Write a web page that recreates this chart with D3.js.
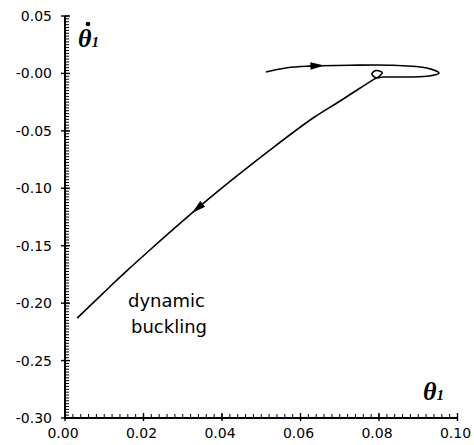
<!DOCTYPE html>
<html>
<head>
<meta charset="utf-8">
<script src="https://cdn.jsdelivr.net/npm/d3@7"></script>
<style>
body { margin: 0; background: #fff; }
svg { display: block; }
</style>
</head>
<body>
<svg></svg>
<script>
// trajectory in the phase plane (theta1, dtheta1/dt)
var theta = [0.0512, 0.0566, 0.0624, 0.0726, 0.0836, 0.0922, 0.0953, 0.0922, 0.0836, 0.0810,
             0.0792, 0.0782, 0.0792, 0.0808, 0.0800, 0.0790, 0.0752, 0.0701, 0.0632, 0.0522,
             0.0438, 0.0369, 0.0293, 0.0217, 0.0158, 0.0115, 0.0031];
var thetaDot = [0.0012, 0.0050, 0.0064, 0.0071, 0.0071, 0.0047, 0.0003, -0.0025, -0.0031, -0.0031,
                -0.0037, -0.0005, 0.0025, 0.0008, -0.0027, -0.0045, -0.0127, -0.0240, -0.0388, -0.0667,
                -0.0892, -0.1084, -0.1306, -0.1535, -0.1717, -0.1855, -0.2130];

// arrow heads along the path
var arrowTheta = [0.0643, 0.0336];
var arrowThetaDot = [0.0066, -0.1171];

var xTicks = [0, 0.02, 0.04, 0.06, 0.08, 0.10];
var xTickLabels = ["0.00", "0.02", "0.04", "0.06", "0.08", "0.10"];
var yTicks = [0.05, 0, -0.05, -0.10, -0.15, -0.20, -0.25, -0.30];
var yTickLabels = ["0.05", "-0.00", "-0.05", "-0.10", "-0.15", "-0.20", "-0.25", "-0.30"];
var note = ["dynamic", "buckling"];

var w = 474, h = 445;
var svg = d3.select("svg").attr("width", w).attr("height", h);

var x = d3.scaleLinear().domain([0, 0.10]).range([65, 457.5]);
var y = d3.scaleLinear().domain([-0.30, 0.05]).range([418, 16]);

var x0 = x(0), y0 = y(-0.30);

// axes drawn as thin filled bars
var yMinor = d3.range(0, 141).map(i => -0.30 + i * 0.0025);
var xMinor = d3.range(0, 51).map(i => i * 0.002);
var ax = svg.append("g");

ax.append("rect").attr("x", x0 - 1).attr("y", y(0.05)).attr("width", 2).attr("height", y0 - y(0.05) + 1)
    .attr("fill", "#000");
ax.append("rect").attr("x", x0 - 1).attr("y", y0 - 1).attr("width", x(0.10) - x0 + 1.5).attr("height", 2)
    .attr("fill", "#000");

ax.selectAll(".ym").data(yMinor).enter().append("rect")
    .attr("x", x0).attr("y", d => y(d) - 0.5).attr("width", 4).attr("height", 1).attr("fill", "#000");
ax.selectAll(".xm").data(xMinor).enter().append("rect")
    .attr("x", d => x(d) - 0.5).attr("y", y0 - 4).attr("width", 1).attr("height", 4).attr("fill", "#000");
ax.selectAll(".yM").data(yTicks).enter().append("rect")
    .attr("x", x0 - 4).attr("y", d => y(d) - 0.7).attr("width", 9).attr("height", 1.4).attr("fill", "#000");
ax.selectAll(".xM").data(xTicks).enter().append("rect")
    .attr("x", d => x(d) - 0.7).attr("y", y0 - 5).attr("width", 1.4).attr("height", 8).attr("fill", "#000");

// tick labels
svg.selectAll(".yl").data(yTicks).enter().append("text")
    .attr("x", x0 - 13).attr("y", d => y(d)).attr("dy", "0.36em")
    .attr("text-anchor", "end")
    .style("font-family", "'DejaVu Sans', sans-serif").style("font-size", "14px")
    .text((d, i) => yTickLabels[i]);
svg.selectAll(".xl").data(xTicks).enter().append("text")
    .attr("x", d => x(d) - 2).attr("y", 438)
    .attr("text-anchor", "middle")
    .style("font-family", "'DejaVu Sans', sans-serif").style("font-size", "14px")
    .text((d, i) => xTickLabels[i]);

// trajectory
var pts = theta.map((t, i) => [x(t), y(thetaDot[i])]);
var path = svg.append("path")
    .attr("d", d3.line().curve(d3.curveCatmullRom.alpha(0.5))(pts))
    .attr("fill", "none")
    .attr("stroke", "#000")
    .attr("stroke-width", 1.6);

// arrow heads oriented along the path
var node = path.node(), total = node.getTotalLength();
arrowTheta.forEach((t, k) => {
    var px = x(t), py = y(arrowThetaDot[k]);
    var best = 0, bestD = Infinity;
    for (var l = 0; l <= total; l += 0.5) {
        var p = node.getPointAtLength(l);
        var d = (p.x - px) * (p.x - px) + (p.y - py) * (p.y - py);
        if (d < bestD) { bestD = d; best = l; }
    }
    var p0 = node.getPointAtLength(Math.max(0, best - 3)),
        p1 = node.getPointAtLength(Math.min(total, best + 3)),
        pc = node.getPointAtLength(best);
    var ang = Math.atan2(p1.y - p0.y, p1.x - p0.x) * 180 / Math.PI;
    svg.append("path")
        .attr("d", "M7,0L-7,-3.8L-7,3.8Z")
        .attr("fill", "#000")
        .attr("transform", "translate(" + pc.x + "," + pc.y + ") rotate(" + ang + ")");
});

// annotation
svg.append("text")
    .attr("x", 128).attr("y", 307)
    .style("font-family", "'DejaVu Sans', sans-serif").style("font-size", "18px")
    .selectAll("tspan").data(note).enter().append("tspan")
    .attr("x", (d, i) => i ? 131 : 128)
    .attr("dy", (d, i) => i ? 26 : 0)
    .text(d => d);

// axis labels
var yl = svg.append("text")
    .attr("x", 78).attr("y", 47)
    .style("font-family", "'Liberation Serif', serif").style("font-weight", "bold").style("font-style", "italic")
    .style("font-size", "26px");
yl.append("tspan").text("θ");
yl.append("tspan").style("font-size", "15px").text("1");
// dot over theta (time derivative)
svg.append("circle").attr("cx", 88).attr("cy", 24).attr("r", 2.3).attr("fill", "#000");

var xl = svg.append("text")
    .attr("x", 423).attr("y", 400)
    .style("font-family", "'Liberation Serif', serif").style("font-weight", "bold").style("font-style", "italic")
    .style("font-size", "26px");
xl.append("tspan").text("θ");
xl.append("tspan").style("font-size", "15px").text("1");
</script>
</body>
</html>
